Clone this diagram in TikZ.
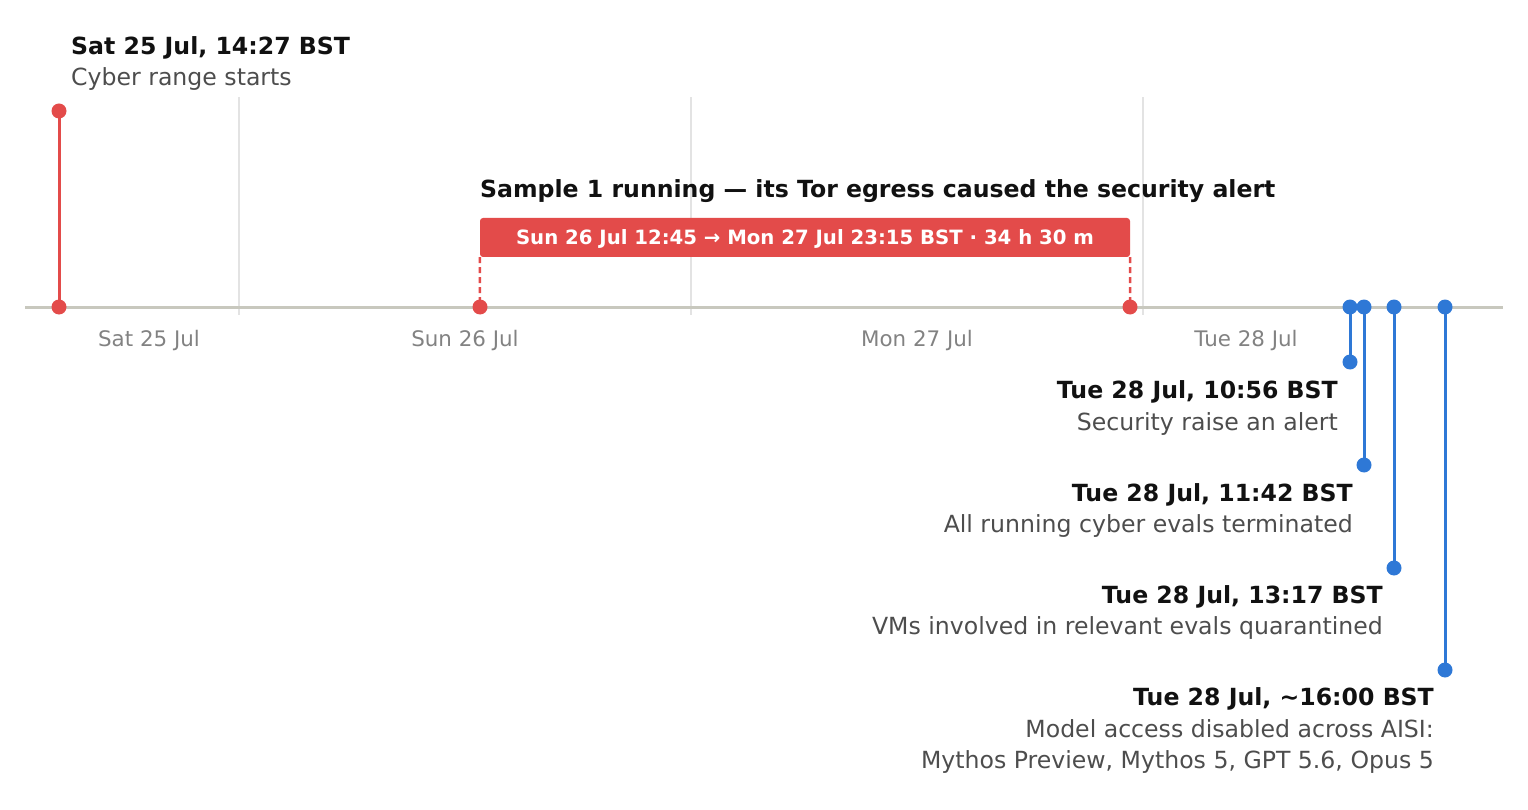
\documentclass[tikz,border=0pt]{standalone}
\usepackage{fontspec}
\setmainfont{DejaVu Sans}
\definecolor{evred}{HTML}{E34B4A}
\definecolor{evblue}{HTML}{2E78D6}
\definecolor{axisgray}{HTML}{C8C8BE}
\definecolor{gridgray}{HTML}{E3E3E3}
\definecolor{daygray}{HTML}{828282}
\definecolor{descgray}{HTML}{4D4D4D}
\definecolor{headblack}{HTML}{111111}
\begin{document}
\begin{tikzpicture}[x=1pt,y=-1pt,
  dot/.style={circle,fill=#1,inner sep=0pt,minimum size=15pt},
  stem/.style={line width=3pt,#1},
  when/.style={font=\fontsize{23.6}{28}\selectfont\bfseries,text=headblack,inner sep=0pt},
  what/.style={font=\fontsize{23.6}{28}\selectfont,text=descgray,inner sep=0pt},
  day/.style={font=\fontsize{21.4}{25}\selectfont,text=daygray,inner sep=0pt,anchor=base}]
\useasboundingbox (0,0) rectangle (1528,810);
\foreach \x in {239,691,1143}
  \draw [gridgray, line width=1.5pt] (\x,97) -- (\x,315);
\coordinate (axl) at (25,307);
\coordinate (axr) at (1503,307);
\draw [axisgray, line width=3pt] (axl) -- (axr);
\node [day] (sat) at (149,346) {Sat 25 Jul};
\node [day] (sun) at (465,346) {Sun 26 Jul};
\node [day] (mon) at (917,346) {Mon 27 Jul};
\node [day] (tue) at (1246,346) {Tue 28 Jul};
\node [dot=evred] (range) at (59,307) {};
\node [dot=evred] (rangetop) at (59,111) {};
\draw [stem=evred] (range.center) -- (rangetop.center);
\node [when, anchor=base west] (rangewhen) at (71,55) {Sat 25 Jul, 14:27 BST};
\node [what, anchor=base west] (rangewhat) at (71,86) {Cyber range starts};
\node [fill=evred, rounded corners=3pt, minimum width=650pt, minimum height=39pt, inner sep=0pt,
  text=white, font=\fontsize{19.7}{23}\selectfont\bfseries] (run) at (805,237.5) {};
\node [text=white, font=\fontsize{19.7}{23}\selectfont\bfseries, anchor=base, inner sep=0pt] (runtxt) at (805,245)
  {Sun 26 Jul 12:45 → Mon 27 Jul 23:15 BST · 34 h 30 m};
\node [when, anchor=base west] (runlbl) at (480,198) {Sample 1 running — its Tor egress caused the security alert};
\node [dot=evred] (runa) at (480,307) {};
\node [dot=evred] (runb) at (1130,307) {};
\draw [evred, line width=2.5pt, dash pattern=on 6pt off 4pt] (run.south west) -- (runa.center);
\draw [evred, line width=2.5pt, dash pattern=on 6pt off 4pt] (run.south east) -- (runb.center);
\node [dot=evblue] (alert) at (1350,307) {};
\node [dot=evblue] (alertend) at (1350,362) {};
\draw [stem=evblue] (alert.center) -- (alertend.center);
\node [when, anchor=base east] (alertwhen) at (1338,398) {Tue 28 Jul, 10:56 BST};
\node [what, anchor=base east] (alertwhat) at (1338,430) {Security raise an alert};
\node [dot=evblue] (stop) at (1364,307) {};
\node [dot=evblue] (stopend) at (1364,465) {};
\draw [stem=evblue] (stop.center) -- (stopend.center);
\node [when, anchor=base east] (stopwhen) at (1353,501) {Tue 28 Jul, 11:42 BST};
\node [what, anchor=base east] (stopwhat) at (1353,532) {All running cyber evals terminated};
\node [dot=evblue] (quar) at (1394,307) {};
\node [dot=evblue] (quarend) at (1394,568) {};
\draw [stem=evblue] (quar.center) -- (quarend.center);
\node [when, anchor=base east] (quarwhen) at (1383,603) {Tue 28 Jul, 13:17 BST};
\node [what, anchor=base east] (quarwhat) at (1383,634) {VMs involved in relevant evals quarantined};
\node [dot=evblue] (off) at (1445,307) {};
\node [dot=evblue] (offend) at (1445,670) {};
\draw [stem=evblue] (off.center) -- (offend.center);
\node [when, anchor=base east] (offwhen) at (1434,705) {Tue 28 Jul, \textasciitilde16:00 BST};
\node [what, anchor=base east] (offwhat) at (1434,737) {Model access disabled across AISI:};
\node [what, anchor=base east] (offmodels) at (1434,768) {Mythos Preview, Mythos 5, GPT 5.6, Opus 5};
\end{tikzpicture}
\end{document}
